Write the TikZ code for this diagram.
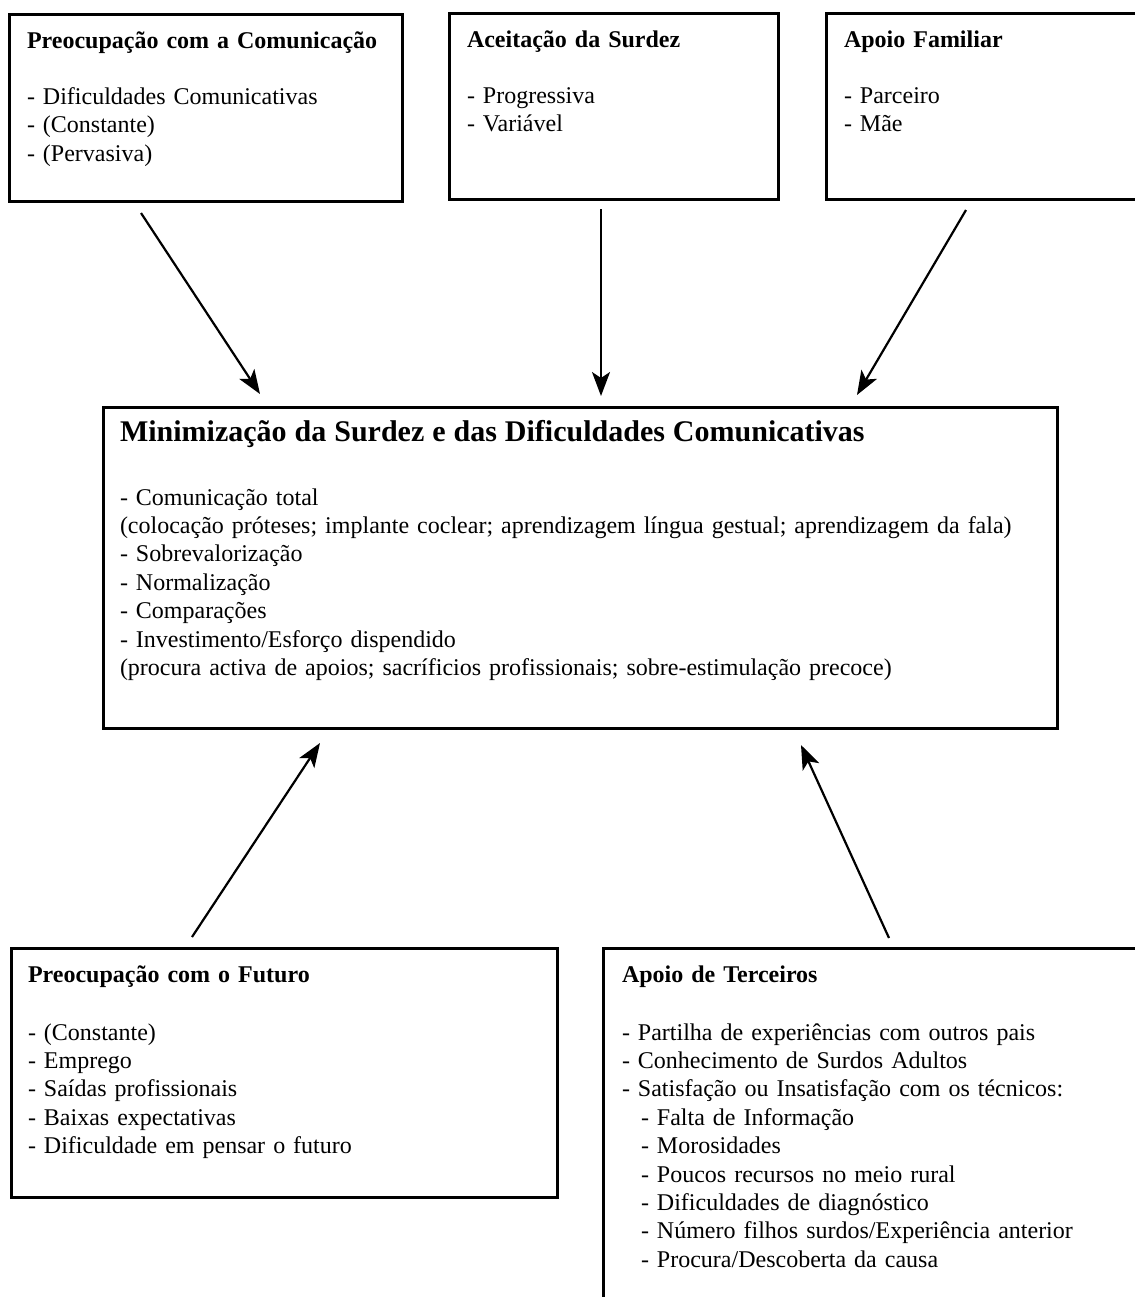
\documentclass[tikz,border=0pt]{standalone}
\usepackage{fontspec}
\setmainfont{Liberation Serif}
\usetikzlibrary{arrows.meta}
\tikzset{
	panel/.style={draw, line width=1.5pt, outer sep=0pt, anchor=north west, align=left,
		inner ysep=0pt, inner xsep=9pt, text height=17pt, font=\fontsize{12}{14.2}\selectfont}
}
\tikzset{
	link/.style={-{Stealth[length=12pt,width=9pt,inset=3pt]}, line width=1.1pt}
}

\begin{document}
\begin{tikzpicture}[x=0.5pt, y=-0.5pt]
      \useasboundingbox (0,0) rectangle (1135,1297);
      \clip (0,0) rectangle (1135,1297);
      \node[panel, text width=178.5pt, text depth=76.5pt] (comm) at (9,14)
        {\textbf{Preocupação com a Comunicação}\\[14pt]
         - Dificuldades Comunicativas\\ - (Constante)\\ - (Pervasiva)};
      \node[panel, text width=146.5pt, text depth=76pt] (acc) at (449,13)
        {\textbf{Aceitação da Surdez}\\[14pt]
         - Progressiva\\ - Variável};
      \node[panel, text width=150pt, text depth=76pt] (fam) at (826,13)
        {\textbf{Apoio Familiar}\\[14pt]
         - Parceiro\\ - Mãe};
      \node[panel, inner xsep=8.5pt, text width=460pt, text depth=143.5pt] (mini) at (103,407)
        {{\fontsize{15}{17}\selectfont\bfseries Minimização da Surdez e das Dificuldades Comunicativas}\\[17.8pt]
         - Comunicação total\\
         (colocação próteses; implante coclear; aprendizagem língua gestual; aprendizagem da fala)\\
         - Sobrevalorização\\ - Normalização\\ - Comparações\\
         - Investimento/Esforço dispendido\\
         (procura activa de apoios; sacríficios profissionais; sobre-estimulação precoce)};
      \node[panel, inner xsep=8.5pt, text width=256pt, text depth=107.5pt] (fut) at (11,948)
        {\textbf{Preocupação com o Futuro}\\[14.8pt]
         - (Constante)\\ - Emprego\\ - Saídas profissionais\\ - Baixas expectativas\\
         - Dificuldade em pensar o futuro};
      \node[panel, inner xsep=9.5pt, text width=280pt, text depth=180pt] (ter) at (603,948)
        {\textbf{Apoio de Terceiros}\\[14.8pt]
         - Partilha de experiências com outros pais\\
         - Conhecimento de Surdos Adultos\\
         - Satisfação ou Insatisfação com os técnicos:\\
         \hspace*{9.5pt}- Falta de Informação\\
         \hspace*{9.5pt}- Morosidades\\
         \hspace*{9.5pt}- Poucos recursos no meio rural\\
         \hspace*{9.5pt}- Dificuldades de diagnóstico\\
         \hspace*{9.5pt}- Número filhos surdos/Experiência anterior\\
         \hspace*{9.5pt}- Procura/Descoberta da causa};
      \draw[link] ([shift={(132,12)}]comm.south west) -- ([shift={(157,-13)}]mini.north west);
      \draw[link] ([shift={(152,10)}]acc.south west) -- ([shift={(498,-11)}]mini.north west);
      \draw[link] ([shift={(140,11)}]fam.south west) -- ([shift={(754,-12)}]mini.north west);
      \draw[link] ([shift={(181,-11)}]fut.north west) -- ([shift={(217,15)}]mini.south west);
      \draw[link] ([shift={(286,-10)}]ter.north west) -- ([shift={(698,17)}]mini.south west);
    \end{tikzpicture}
\end{document}
